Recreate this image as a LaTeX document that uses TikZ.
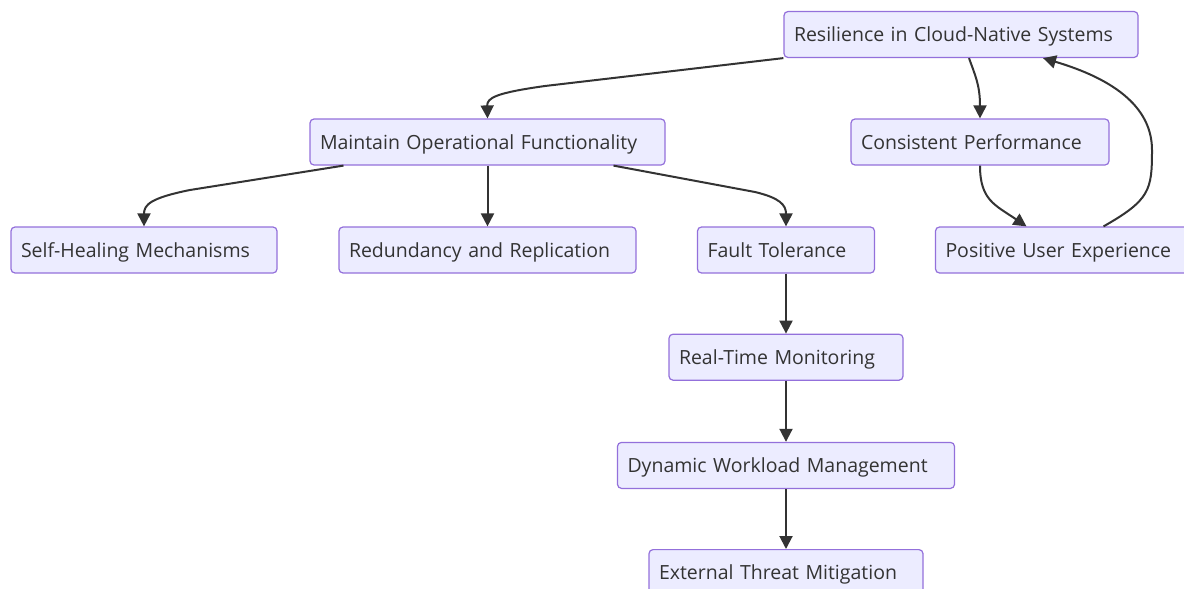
\documentclass[tikz,border=0pt]{standalone}
\usepackage{fontspec}
\setmainfont{Open Sans}
\usetikzlibrary{arrows.meta,positioning}
\definecolor{boxfill}{HTML}{ECECFF}
\definecolor{boxline}{HTML}{9370DB}
\definecolor{ink}{HTML}{333333}

\begin{document}
\begin{tikzpicture}[
		x=1pt, y=-1pt,
		block/.style={draw=boxline, fill=boxfill, line width=1.2pt, rounded corners=4pt, text=ink, align=left, inner xsep=10pt, inner ysep=0pt, minimum height=46pt, text height=18pt, text depth=4pt, font=\fontsize{19.5}{23}\selectfont},
		link/.style={draw=ink, line width=2pt, -{Triangle[length=13pt,width=13pt]}}
	]
		\useasboundingbox (0,0) rectangle (1184,589);

		\node[block, text width=334pt] (res) at (961,34.5) {Resilience in Cloud-Native Systems};
		\node[block, text width=335pt] (maint) at (487.5,142) {Maintain Operational Functionality};
		\node[block, text width=238pt] (cons) at (980,142) {Consistent Performance};
		\node[block, text width=246pt] (heal) at (144,250) {Self-Healing Mechanisms};
		\node[block, text width=277pt] (red) at (487.5,250) {Redundancy and Replication};
		\node[block, text width=157pt] (fault) at (786,250) {Fault Tolerance};
		\node[block, text width=242pt] (pos) at (1066.5,250) {Positive User Experience};
		\node[block, text width=214pt, below=60pt of fault] (mon) {Real-Time Monitoring};
		\node[block, text width=317pt, below=61pt of mon] (dyn) {Dynamic Workload Management};
		\node[block, text width=254pt, below=60pt of dyn] (ext) {External Threat Mitigation};

		\draw[link] (res.south west) -- (545,86) .. controls (495,93) and (487,98) .. (maint.north);
		\draw[link] ([xshift=8pt]res.south) .. controls (975,75) and (980,85) .. (cons.north);
		\draw[link] (cons.south) .. controls (980,200) and (995,205) .. ([xshift=-40pt]pos.north);
		\draw[link] ([xshift=37pt]pos.north) .. controls (1150,200) and (1152,190) .. (1152,150) .. controls (1152,100) and (1100,75) .. ([xshift=82pt]res.south);
		\draw[link] ([xshift=-144pt]maint.south) -- (190,190) .. controls (150,198) and (144,205) .. (heal.north);
		\draw[link] (maint) -- (red);
		\draw[link] ([xshift=126pt]maint.south) -- (755,192) .. controls (780,198) and (786,205) .. (fault.north);
		\draw[link] (fault) -- (mon);
		\draw[link] (mon) -- (dyn);
		\draw[link] (dyn) -- (ext);
	\end{tikzpicture}
\end{document}
